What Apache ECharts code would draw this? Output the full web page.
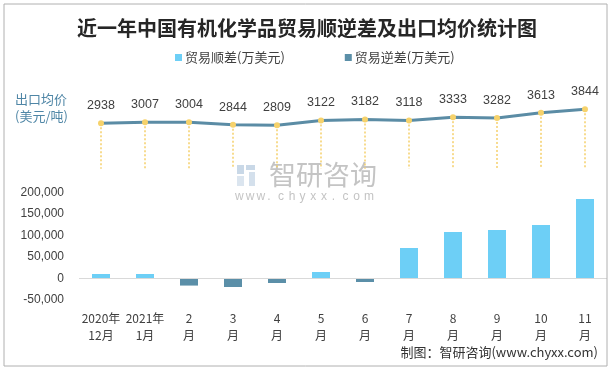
<!DOCTYPE html>
<html>
<head>
<meta charset="utf-8">
<script src="https://cdn.jsdelivr.net/npm/echarts@6/dist/echarts.min.js"></script>
<style>html,body{margin:0;padding:0;background:#fff;}#c{width:614px;height:371px;}</style>
</head>
<body>
<div id="c"></div>
<script>
const categories = ['2020年\n12月','2021年\n1月','2\n月','3\n月','4\n月','5\n月','6\n月','7\n月','8\n月','9\n月','10\n月','11\n月'];
const surplus = [10000, 10000, null, null, null, 14700, null, 70800, 108200, 112900, 124500, 185300];
const deficit = [null, null, -17000, -20300, -11000, null, -8600, null, null, null, null, null];
const avgPrice = [2938, 3007, 3004, 2844, 2809, 3122, 3182, 3118, 3333, 3282, 3613, 3844];
const yTicks = [-50000, 0, 50000, 100000, 150000, 200000];

const FONT = '"Noto Sans CJK SC", "Liberation Sans", sans-serif';
const chart = echarts.init(document.getElementById('c'), null, {renderer: 'canvas'});

const wmChars = 'www.chyxx.com'.split('');
const wmGraphics = wmChars.map((ch, i) => ({
  type: 'text', left: 237 + i * 10.75 - 2, top: 191,
  style: {text: ch, fill: '#c4c4c4', font: '12px "Liberation Sans", sans-serif'},
  silent: true
}));

const option = {
  backgroundColor: '#fff',
  animation: false,
  textStyle: {fontFamily: FONT},
  title: {
    text: '近一年中国有机化学品贸易顺逆差及出口均价统计图',
    left: 'center', top: 13,
    textStyle: {fontFamily: FONT, fontSize: 20, fontWeight: 'bold', color: '#262626'}
  },
  legend: {
    top: 46, left: 170,
    itemWidth: 7, itemHeight: 7, itemGap: 60,
    icon: 'rect',
    textStyle: {fontFamily: FONT, fontSize: 13, color: '#404040', padding: [0, 0, 0, -2]},
    data: ['贸易顺差(万美元)', '贸易逆差(万美元)']
  },
  graphic: [
    {type: 'rect', shape: {x: 4, y: 4, width: 603, height: 362}, style: {fill: 'none', stroke: '#b0b0b0', lineWidth: 1}, silent: true, z: 100},
    {type: 'text', left: 15, top: 93, style: {text: '出口均价', fill: '#4f86a6', font: '13px ' + FONT}},
    {type: 'text', left: 15, top: 110, style: {text: '(美元/吨)', fill: '#4f86a6', font: '13px ' + FONT}},
    {type: 'rect', shape: {x: 237, y: 165, width: 7, height: 9}, style: {fill: '#c9d8e7'}, silent: true},
    {type: 'rect', shape: {x: 237, y: 176, width: 7, height: 10}, style: {fill: '#dbe5ef'}, silent: true},
    {type: 'rect', shape: {x: 246, y: 165, width: 9, height: 5}, style: {fill: '#c9d8e7'}, silent: true},
    {type: 'rect', shape: {x: 249, y: 172, width: 6, height: 14}, style: {fill: '#d4e0ec'}, silent: true},
    {type: 'text', left: 269, top: 161, style: {text: '智研咨询', fill: '#c4c4c4', font: '27px ' + FONT}, silent: true}
  ].concat(wmGraphics).concat([
    {type: 'text', right: 16, top: 346, style: {text: '制图：智研咨询(www.chyxx.com)', fill: '#333', font: '13px ' + FONT}}
  ]),
  grid: [
    {left: 79, right: 7, top: 192.7, height: 107},
    {left: 79, right: 7, top: 91.4, height: 77.3}
  ],
  xAxis: [
    {
      type: 'category', gridIndex: 0, data: categories,
      axisLine: {show: false, onZero: false}, axisTick: {show: false},
      axisLabel: {fontFamily: FONT, fontSize: 12, color: '#404040', lineHeight: 17, margin: 10, interval: 0}
    },
    {
      type: 'category', gridIndex: 1, data: categories,
      axisLine: {show: false}, axisTick: {show: false}, axisLabel: {show: false}
    }
  ],
  yAxis: [
    {
      type: 'value', gridIndex: 0, min: yTicks[0], max: yTicks[yTicks.length - 1], interval: 50000,
      axisLine: {show: false}, axisTick: {show: false}, splitLine: {show: false},
      axisLabel: {
        fontFamily: '"Liberation Sans", sans-serif', fontSize: 12, color: '#404040', margin: 15,
        formatter: v => v.toLocaleString('en-US')
      }
    },
    {
      type: 'value', gridIndex: 1, min: 0, max: 5000,
      axisLine: {show: false}, axisTick: {show: false}, splitLine: {show: false}, axisLabel: {show: false}
    }
  ],
  series: [
    {
      name: '贸易顺差(万美元)', type: 'bar', xAxisIndex: 0, yAxisIndex: 0, stack: 'b',
      data: surplus, barWidth: 18, itemStyle: {color: '#6dcff6'},
      markLine: {
        silent: true, symbol: 'none', label: {show: false},
        lineStyle: {color: '#d9d9d9', type: 'solid', width: 1},
        data: [{yAxis: 0}]
      }
    },
    {
      name: '贸易逆差(万美元)', type: 'bar', xAxisIndex: 0, yAxisIndex: 0, stack: 'b',
      data: deficit, barWidth: 18, itemStyle: {color: '#5b8fa8'}
    },
    {
      name: '出口均价', type: 'line', xAxisIndex: 1, yAxisIndex: 1,
      data: avgPrice,
      symbol: 'circle', symbolSize: 6,
      lineStyle: {color: '#5b8ca5', width: 3},
      itemStyle: {color: '#f6d26b'},
      label: {show: true, position: 'top', distance: 8, fontFamily: '"Liberation Sans", sans-serif', fontSize: 12.5, color: '#404040'},
      z: 5,
      markLine: {
        silent: true, symbol: 'none', label: {show: false},
        lineStyle: {color: '#f5cf6a', type: [2, 2], width: 1.5},
        data: avgPrice.map((v, i) => [{coord: [i, v]}, {coord: [i, 0]}])
      }
    }
  ]
};
chart.setOption(option);
</script>
</body>
</html>
